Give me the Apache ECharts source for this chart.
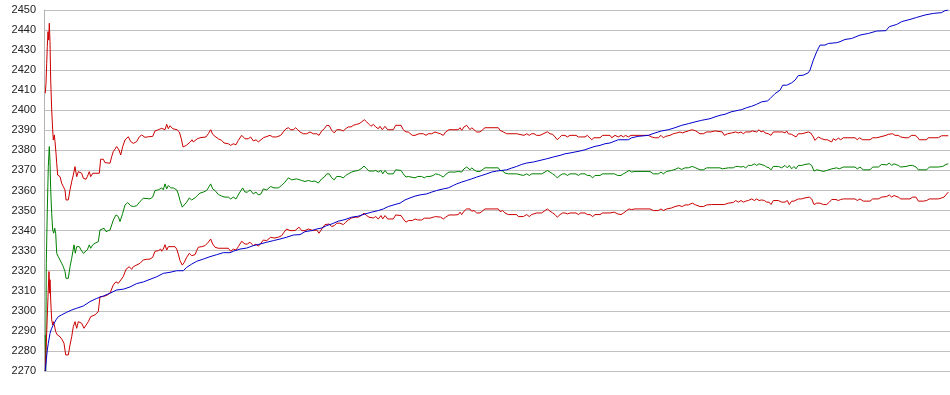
<!DOCTYPE html>
<html>
<head>
<meta charset="utf-8">
<script src="https://cdn.jsdelivr.net/npm/echarts@6/dist/echarts.min.js"></script>
<style>
html,body{margin:0;padding:0;background:#fff;}
#chart{width:950px;height:395px;}
</style>
</head>
<body>
<div id="chart"></div>
<script>
// y axis scale
const yMin = 2270;
const yMax = 2450;
const yStep = 10;
// x extent (sample steps)
const stepMax = 906;

// upper band (red) [step, value]
const upperBand = [
[1.3,2408.5],[2,2413.5],[2.7,2423.4],[3.3,2431.7],[4,2439.2],[4.7,2435],[5.3,2443.4],[6,2434.2],[6.7,2415.1],[7.7,2400.1],[8.7,2390.2],[9.3,2385.2],[10.3,2387.7],[11,2384.4],[12,2378.6],[12.7,2373.6],[13.7,2367.7],[16,2366.9],[17.7,2363.6],[19.3,2361.9],[21,2360.3],[22,2355.3],[24.3,2355.3],[26,2360.3],[27.7,2364.4],[29.3,2367.7],[31,2371.9],[32.7,2366.9],[34.3,2369.4],[36,2369.4],[37.7,2368.6],[39.3,2366.1],[42,2365.6],[43.3,2366.9],[45.3,2369.4],[46.7,2366.9],[48.7,2368.6],[55.3,2368.6],[56.7,2375.6],[59.3,2375.6],[61,2373.9],[62.7,2373.2],[66,2373.6],[67.7,2376.9],[69.3,2379.4],[72.7,2381.9],[75,2380.2],[76.7,2377.7],[78.7,2381.9],[81,2385.2],[84.3,2386.8],[86.7,2384.4],[89.3,2383.5],[92.7,2384.4],[95.3,2386.8],[97.7,2387.7],[101,2386.5],[104.3,2386.8],
[106,2386.3],[108.7,2387],[111,2389.7],[114.3,2390.3],[117.7,2391],[119.3,2391.7],[121,2390.3],[122.7,2393],[124.3,2390.8],[126,2392.3],[128.7,2390.8],[133,2390.3],[135.3,2389.2],[137.3,2385.8],[139,2381.7],[140.7,2381.3],[142.3,2382.5],[144.3,2383.3],[146.3,2384.2],[148,2385.3],[149.3,2384.2],[153.3,2385.8],[156,2386.3],[162,2386.7],[164.3,2388.3],[166.7,2390.3],[168.7,2388],[171,2387],[174.3,2385.8],[177.7,2385],[180,2383.7],[184.3,2383.3],[186.7,2382.5],[189.3,2383.3],[192,2382.8],[194.3,2385],[197.7,2387.5],[201,2385.8],[204.3,2385.8],[206.7,2386.7],[209.3,2384.7],[212,2385.3],[214.3,2384.2],[217,2385.3],[219.3,2386.3],[221,2385.8],[226,2387.5],[228.7,2386.7],[232.7,2386.7],[236.7,2387.5],[239.3,2389.2],[242,2390.8],[244.3,2391.3],[246.7,2390.3],[249.3,2390.3],[251.7,2391.3],
[253.7,2390.3],[256,2389.2],[259.3,2388.3],[262.7,2388.3],[266,2389.2],[269.3,2388.3],[272.7,2388.3],[275,2387.5],[277.7,2389.7],[280.3,2390.8],[282.7,2392.5],[285.3,2392.3],[287.7,2390],[290.3,2388.7],[292.7,2390.3],[296,2390.3],[299.3,2389.7],[301.7,2390.8],[304.3,2391.7],[307,2391.7],[309.3,2392.5],[312.7,2393],[315,2393.3],[317.7,2394.2],[320.3,2395.3],[322.7,2394.2],[325,2393],[327,2392],[329.3,2393],[331.7,2391.7],[334.3,2390.8],[336,2392],[338.3,2390.3],[341,2392],[343.7,2390.3],[349.3,2390.3],[351.7,2392.5],[357,2392.5],[359.3,2390.3],[362,2389.2],[364.3,2389.2],[366,2388.3],[368.3,2387.5],[371,2387.5],[372.7,2388.3],[375,2388.3],[377,2387.5],[379.3,2388.3],[382,2387.5],[384.3,2388.3],[387.7,2388.3],[391,2389.2],[393.7,2388.7],[396.3,2388.3],[399.3,2387.5],[401.7,2389.2],[405,2390.3],[411,2390.3],
[414.3,2390.3],[416,2391.3],[417.7,2390],[420,2391.7],[422.7,2392.5],[424.3,2393.3],[426,2390.3],[427.7,2391.3],[430,2390.3],[432.7,2389.2],[436,2389.2],[437.7,2390],[441,2391.3],[454.3,2391.3],[456,2390],[457.7,2390.3],[459.3,2389.2],[462.7,2388.3],[472.7,2388.3],[474.3,2387.5],[480,2387.5],[482.7,2388.3],[485.3,2387.5],[487.7,2388.3],[490,2388.3],[492.7,2387.5],[496,2387.5],[497.7,2388.3],[501,2388.7],[503.3,2389.3],[506,2388.3],[508.7,2388],[511,2386.7],[513.3,2385.3],[515.3,2386.3],[517.7,2387.5],[521,2387.5],[523.3,2386.7],[526,2387.5],[532,2387.5],[534.3,2386.7],[536.7,2386.7],[538.7,2387.5],[541,2386.7],[543.3,2387.5],[545.3,2386.7],[547.7,2385.3],[550,2386.3],[556,2386.3],[558.7,2387.5],[566,2387.5],
[567.7,2386.3],[571,2387.5],[574.3,2386.7],[577,2387.5],[579.3,2386.7],[581.7,2387.5],[584.3,2386.7],[587,2387.5],[604.3,2387.5],[607.7,2386.7],[610.3,2386.3],[614.3,2386.3],[617,2387.5],[619.3,2386.3],[621.7,2387],[626,2387.5],[629.3,2388.3],[632.7,2388.7],[636,2389.2],[638.3,2388.7],[641,2389.2],[644.3,2389.7],[648.3,2390.3],[651.7,2389.7],[656,2388.3],[659.3,2388.3],[662.7,2389.2],[667,2389.2],[671,2389.7],[678.3,2389.2],[680.3,2387.5],[683.7,2388.3],[687.7,2388.7],[691.7,2389.2],[694.3,2388.7],[697,2389.2],[699.3,2388.3],[701.7,2389.2],[703.7,2388.3],[706,2389.2],[708.3,2389.7],[710.3,2390.3],[712.7,2389.2],[715,2390.3],[717,2389.2],[719.3,2389.7],[721,2388.7],[724.3,2388.3],[727,2387.5],[729.3,2389.2],[736,2389.2],
[738.7,2389.2],[741,2388.7],[742.7,2389.7],[744.3,2388.3],[746,2389.2],[747.7,2388],[749.3,2387.5],[752,2386.7],[754.3,2388.3],[757.7,2388.3],[761,2388.7],[764.3,2389.2],[766.7,2388.7],[769.3,2386.7],[771,2385],[774.3,2386.7],[777.7,2385.8],[781,2385.3],[783.3,2385.3],[785.3,2386.2],[787.7,2384.2],[789.3,2385.8],[792,2385],[794.3,2386.2],[796.7,2385.3],[799.3,2386.3],[811,2386.3],[813.3,2385.3],[815.3,2386.3],[818.7,2385.3],[826,2385.3],[828.7,2386.3],[832.7,2386.3],[836,2386.7],[837.7,2387.5],[842,2387.5],[844.3,2388],[846,2387.5],[848.7,2388.3],[851,2387.5],[854.3,2387.5],[856.7,2386.7],[858.7,2387.5],[861,2386.3],[864.3,2386.3],[867.7,2387.5],[871,2387.5],[873.3,2386.7],[875.3,2385.3],[882.7,2385.3],[884.3,2386.3],[894.3,2386.3],[897.7,2387.3],[904.3,2387.3]
];

// middle line (green)
const middleLine = [
[1.3,2288],[1.7,2270],[2.3,2323.7],[3.3,2350.3],[4.3,2371.9],[5.3,2381.9],[6,2374.4],[6.7,2360.3],[7.7,2348.6],[8.7,2340.3],[9.7,2338.7],[10.7,2341.2],[11.7,2338.7],[12.7,2328.7],[14.3,2327],[16,2326.2],[17.7,2323.7],[19.3,2322],[21,2319.6],[22,2316.2],[24.3,2316.2],[26,2322],[27.7,2326.2],[30,2332.9],[31.3,2328.7],[32.7,2332],[35.3,2332],[37,2330.4],[39.3,2328.7],[41,2328.4],[43.3,2330.4],[45.3,2332.9],[46.7,2331.2],[48.7,2332.9],[51,2333.7],[54.3,2334.5],[56,2340.3],[60,2341.2],[62,2339.5],[63.3,2340.3],[66,2340.3],[67.7,2342.8],[69.3,2345.3],[72,2347.8],[74.3,2347],[76,2344.5],[78.7,2348.6],[81,2352.8],[83.7,2354],[86.7,2352.4],[89.3,2352],[92.7,2352.4],[96,2354.5],[99.3,2356.1],[103,2356],
[106,2355.8],[108.7,2356.7],[111,2360],[114.3,2360.3],[117.7,2361.3],[119.3,2360.3],[121,2363.3],[122.7,2360.8],[124.3,2362.5],[126.7,2361.3],[129.3,2361.3],[132.7,2360.3],[134.3,2358.3],[136,2355],[138.3,2351.7],[140.3,2352.5],[142.7,2354.2],[145.3,2356.3],[147.7,2355.3],[151,2356.3],[153.3,2357.5],[156,2358.7],[159.3,2359.2],[162.7,2360],[164.3,2361.3],[166.7,2363.3],[168.7,2360.8],[171,2360],[174.3,2358],[177.7,2357.2],[181,2356.7],[184.3,2356.7],[186.7,2355.8],[189.3,2356.7],[192,2355.8],[195.3,2358.7],[198.7,2361.3],[201,2359.2],[203.3,2359.2],[206,2360.3],[209.3,2358.3],[212,2359.2],[214.3,2357.8],[217,2358.3],[219.3,2360.8],[222.7,2360.3],[226.7,2362],[230,2361.3],[234.3,2361.3],[237.7,2362.5],[241,2364.2],[244.3,2366.3],[247.7,2365.3],[252.7,2365.8],
[254.3,2365.3],[257.7,2365],[261,2364.5],[264.3,2365],[267.7,2364.5],[271,2364.7],[274.3,2363.7],[277.7,2365.8],[280.3,2366.7],[282.7,2368.3],[285.3,2368.3],[287.7,2366.3],[290.3,2365.3],[292.7,2367],[296,2367],[299.3,2366.3],[301.7,2367.5],[304.3,2368.3],[307.7,2369.2],[311,2369.7],[314.3,2370],[317,2370.8],[320,2372.2],[322.7,2370.8],[325,2369.7],[327,2370.3],[329.3,2369.7],[331.7,2370],[334.3,2369.2],[337,2370],[338.7,2368.3],[341,2370],[343.7,2368.3],[349.3,2368.3],[351.7,2370.3],[357,2370],[359.3,2368.3],[362,2366.7],[364.3,2367],[366,2366.3],[371,2366.3],[373.7,2367],[375,2366.3],[377.7,2367],[380.3,2366.3],[382.7,2367],[386,2367],[389.3,2367.5],[391.7,2368.3],[394.3,2368],[396.7,2367.5],[399.3,2366.7],[401.7,2368],[405,2369.2],[411,2369.2],
[414.3,2369.5],[416,2370.3],[417.7,2369.2],[420,2370.8],[422.7,2371.7],[424.3,2372.5],[426,2370.3],[427.7,2371.3],[430,2370.3],[432.7,2369.5],[436,2369.5],[437.7,2370.3],[441,2371.3],[454.3,2371.3],[456,2370],[458.7,2369.7],[461,2368.7],[464.3,2368.3],[472.7,2368.3],[474.3,2367.5],[479.3,2367.5],[482.7,2368.3],[485.3,2367.5],[487.7,2368.3],[497.7,2368.3],[501,2369.2],[503.3,2370],[506,2369.2],[508.7,2368.3],[511,2367.5],[513.3,2366.3],[516,2367.5],[518.7,2368.3],[521,2368.3],[523.3,2367.5],[526,2368.3],[532,2368.3],[534.3,2367.5],[536.7,2368.3],[538.7,2367.5],[541,2368.3],[543.3,2367.5],[546,2367.5],[548.7,2366.3],[551,2367.5],[556,2367.5],[558.7,2368.3],[566,2368.3],
[567,2367.5],[570.3,2368.3],[573.7,2367.5],[577,2367.5],[579.3,2368.3],[582.7,2369.2],[585,2370],[587.7,2369.2],[591,2369.5],[606,2369.5],[609.3,2368.3],[614.3,2368.3],[617,2369.2],[619.3,2368.3],[622.7,2369.5],[627.7,2370],[631,2370.5],[634.3,2371.3],[637.7,2370.5],[641,2371.3],[644.3,2371.3],[648.3,2372],[651.7,2371.3],[656,2370.3],[659.3,2370.3],[662.7,2371.3],[676,2371.3],[678.3,2370.8],[680.3,2370.3],[684.3,2371.3],[689.3,2371.3],[691.7,2372],[694.3,2372],[697,2371.7],[699.3,2372],[701.7,2371.3],[704.3,2372.5],[707.7,2372.5],[710.3,2373.3],[712.7,2372.5],[715,2373.3],[717,2372.5],[720.3,2372.5],[722.7,2371.7],[725,2371.3],[727,2370.3],[729.3,2372],[734.3,2372],[737.7,2371.3],
[741,2372.5],[743.3,2371.3],[745.3,2372.5],[747.7,2370.8],[750,2372],[752,2370.8],[754.3,2372.5],[757.7,2372.5],[761,2373],[765.3,2373.3],[767.7,2372.5],[770,2369.7],[772.7,2370.3],[776,2370],[779.3,2369.5],[782.7,2370],[784.3,2369.2],[787.7,2370.8],[789.3,2370],[792.7,2371.3],[795.3,2370.8],[799.3,2371.7],[811,2371.7],[813.3,2370.8],[816,2371.7],[819.3,2370.3],[826,2370.3],[828.7,2371.7],[834.3,2371.7],[837.7,2373],[842.7,2372.8],[845.3,2373.7],[847.7,2372.5],[850,2373.3],[854.3,2372.5],[856.7,2371.7],[858.7,2372.5],[862,2372],[866,2372.5],[868.7,2372.5],[872,2371.7],[874.3,2370.3],[882.7,2370.3],[885.3,2371.7],[894.3,2371.7],[898.7,2372],[902,2373],[904.3,2373.3]
];

// lower band (red)
const lowerBand = [
[1.3,2270],[3.3,2270],[4,2307.1],[5,2319.6],[5.7,2308.8],[6,2315.5],[6.7,2305.4],[7.7,2295.5],[8.7,2293],[9.3,2294.6],[10.3,2293],[11.7,2289.6],[13.3,2288],[16,2287.1],[18.3,2285.5],[20,2283.8],[21.7,2278],[24.3,2278],[26,2283],[27.7,2287.1],[29.3,2292.1],[31,2294.6],[32.7,2291.3],[34.3,2294.6],[36,2295.5],[37.7,2293.8],[40,2291.3],[42,2292.1],[44.3,2294.6],[46.7,2297.1],[48.7,2296.3],[51,2298],[54.3,2299.6],[56,2307.1],[59.3,2307.1],[61,2306.3],[63.3,2307.9],[66,2308.8],[69.3,2312.9],[72,2314.5],[74.3,2313.7],[76,2312.9],[79.3,2317.1],[82,2320.7],[85.3,2322],[87.7,2320.7],[89.3,2322],[96,2323.7],[99.3,2325.4],[102.7,2325.7],
[106,2325.8],[108.7,2326.7],[111,2329.7],[114.3,2330],[116.7,2330.8],[117.7,2329.7],[119.3,2330.8],[121,2333],[122.7,2330.3],[124.3,2332],[131,2332],[132.7,2330.8],[134.3,2328.3],[136,2325],[138.3,2322.8],[140.3,2324.2],[142.7,2326.7],[145.3,2328.7],[147.7,2327.5],[151,2328],[152.7,2330],[154.3,2331.7],[157.7,2332],[161,2332.5],[164.3,2334.2],[166.7,2335.8],[168.7,2333.3],[171,2331.7],[174.3,2331.2],[184.3,2331.2],[186.7,2329.7],[189.3,2330.8],[192,2330.3],[194.3,2332],[197.7,2334.7],[201,2333.3],[203.3,2333.3],[206,2334.2],[209.3,2332.5],[212,2333.3],[214.3,2332.2],[217,2333.7],[219.3,2335.3],[222.7,2335],[226.7,2336.7],[230,2336.3],[234.3,2336.7],[237.7,2337.5],[240,2339.2],[242.7,2340.8],[246,2340],[251,2340],[255,2341.7],
[257.7,2340],[261,2340],[264.3,2340.8],[266,2340],[269.3,2340],[272.7,2340.3],[275,2338.7],[277.7,2340.8],[281,2343],[282.7,2343.7],[285.3,2343.3],[287.7,2342],[290.3,2342.5],[292.7,2343.7],[296,2343.7],[299.3,2343],[301.7,2344.2],[304.3,2345.3],[307.7,2346.3],[311,2346.7],[314.3,2346.7],[317,2347.5],[320,2348.7],[322.7,2347.5],[325,2346.7],[327,2347],[329.3,2346.3],[331.7,2347],[334.3,2345.8],[337,2347.5],[338.7,2345.8],[341,2347.5],[343.7,2345.8],[349.3,2345.8],[351.7,2347.8],[357,2347.5],[359.3,2345.8],[362,2344.2],[364.3,2345],[366,2345.8],[368.3,2345],[371,2345.8],[373.7,2345.3],[375,2345.8],[377.7,2345.3],[380.3,2346.2],[386,2346.2],[389.3,2346.7],[391.7,2347],[396.7,2346.7],[399.3,2345.8],[401.7,2346.7],[405,2347.8],[411,2347.8],
[414.3,2348],[416,2349.2],[417.7,2348],[420,2349.7],[422.7,2350.8],[424.3,2350],[426,2350.8],[427.7,2349.7],[430,2350],[432.7,2348.8],[436,2348.8],[437.7,2349.7],[441,2350.8],[454.3,2350.8],[456,2349.5],[458.7,2350],[461,2348.8],[464.3,2348],[472.7,2348],[474.3,2347],[479.3,2347],[482.7,2348],[485.3,2347],[487.7,2348],[492.7,2348.8],[497.7,2348.8],[501,2350],[503.3,2350.8],[506,2349.7],[508.7,2348.8],[511,2348],[513.3,2346.7],[516,2348],[518.7,2348.8],[521,2348.8],[523.3,2348.3],[526,2348.8],[532,2348.8],[534.3,2348],[536.7,2348.8],[538.7,2348],[541,2348.8],[543.3,2348],[546,2348],[548.7,2347],[551,2348],[556,2348],[558.7,2348.8],[566,2348.8],
[567,2348],[570.3,2349.2],[573.7,2348.3],[577,2348],[579.3,2348.7],[582.7,2350],[585,2350.8],[587.7,2350.5],[591,2350.8],[606,2350.8],[609.3,2350],[614.3,2350],[617,2350.8],[619.3,2350],[622.7,2350.8],[627.7,2351.3],[631,2352],[635,2352.5],[638.3,2352],[641,2352.8],[644.3,2352.8],[648.3,2353.7],[651.7,2352.8],[656,2352],[659.3,2352],[662.7,2352.8],[667.7,2353],[680.3,2353],[684.3,2353.7],[689.3,2354],[691.7,2355],[694.3,2354.2],[697,2355],[699.3,2354.2],[701.7,2354.7],[704.3,2355],[707.7,2355.8],[710.3,2355],[712.7,2355.8],[715,2355],[717.7,2355.3],[720.3,2355],[722.7,2354.2],[725,2354.2],[727,2353],[729.3,2355],[734.3,2355],[737.7,2354.2],
[741,2354.2],[743.3,2355],[745.3,2353],[747.7,2354.7],[750,2354.7],[752,2354.2],[754.3,2355.8],[757.7,2355.8],[761,2356.3],[765.3,2356.7],[767.7,2355.8],[770,2353],[772.7,2353.7],[776,2353.7],[779.3,2353],[782.7,2353],[785.3,2354.2],[787.7,2355.5],[789.3,2354.7],[792,2355.5],[794.3,2355],[796.7,2355.5],[799.3,2355.8],[811,2355.8],[813.3,2355],[816,2355.8],[819.3,2354.7],[826,2354.7],[828.7,2355.8],[834.3,2355.8],[837.7,2356.7],[842.7,2357],[845.3,2357.8],[847.7,2356.7],[850,2357.5],[854.3,2356.7],[856.7,2355.8],[858.7,2356.7],[862,2355.8],[866,2355.8],[868.7,2356.7],[872,2356.7],[874.3,2354.7],[879.3,2354.7],[882.7,2355],[885.3,2355.8],[894.3,2355.8],[897.7,2356.3],[900,2356.7],[902,2357],[904.3,2359.2]
];

// trend line (blue)
const trendLine = [
[1.3,2270],[2.3,2275.5],[3.3,2280.5],[4.3,2283.8],[6,2288.8],[7.7,2291.3],[9.3,2293],[12,2295.5],[14.3,2297.1],[17.7,2298],[22.7,2299.3],[27.7,2300.4],[32.7,2301.3],[39.3,2302.4],[46,2304.6],[52.7,2306.2],[59.3,2307.4],[66,2308.8],[72.7,2310.4],[79.3,2310.8],[86,2311.9],[92.7,2313.6],[99.3,2314.4],[106,2315.7],
[112.7,2317],[119.3,2318.7],[126,2319.2],[132.7,2320],[139.3,2320],[142.7,2321.7],[147.7,2323.3],[152.7,2324.7],[159.3,2325.8],[166,2327],[172.7,2328],[179.3,2329],[186,2329],[189.3,2329.7],[196,2330.8],[202.7,2331.3],[209.3,2332.5],[216,2333.3],[222.7,2334.2],[229.3,2335],[236,2335.8],[242.7,2336.7],[249.3,2337.8],[256,2338],
[261,2339.5],[267.7,2340],[272.7,2340.8],[277.7,2341.3],[282.7,2342.5],[287.7,2343.3],[294.3,2344.7],[301,2345.5],[307.7,2346.7],[314.3,2347.2],[321,2348.3],[327.7,2349.2],[334.3,2350],[339.3,2350.8],[344.3,2352],[351,2353],[356,2353.7],[361,2355.3],[366,2356.3],[371,2357.2],[376,2357.8],[382.7,2358.3],[387.7,2359.2],[392.7,2360],[399.3,2360.8],[404.3,2361.3],
[409.3,2362.5],[412.7,2363.3],[417.7,2364.2],[422.7,2365],[427.7,2365.8],[432.7,2366.7],[437.7,2367.5],[442.7,2368.3],[447.7,2369.2],[452.7,2369.7],[457.7,2370],[462.7,2370.3],[467.7,2371.2],[472.7,2372],[477.7,2373],[482.7,2373.7],[489.3,2374.2],[496,2375],[502.7,2375.8],[509.3,2376.7],[516,2377.5],[521,2378.3],[526,2378.7],[531,2379.2],[536,2379.7],[541,2380.3],[546,2381.2],[551,2382],[556,2382.5],[561,2383.3],[566,2383.7],
[567.7,2384.2],[574.3,2385.3],[584.3,2385.3],[587.7,2386.3],[594.3,2387],[604.3,2387.5],[611,2388.7],[617.7,2389.7],[624.3,2390.3],[631,2391.3],[637.7,2392.5],[644.3,2393.3],[651,2394.2],[657.7,2395],[666,2395.8],[671,2396.7],[676,2397.5],[681,2398],[687,2399.2],[694.3,2400],[697.7,2400.3],[702.7,2401.3],[707.7,2402],[712.7,2403],[717.7,2404.2],[723.7,2404.7],[726,2405.8],[731,2408.3],[736,2410],
[738.7,2412.5],[742.7,2412.5],[744.3,2413.3],[747.7,2413.7],[751,2415],[754.3,2417.3],[759.3,2417.5],[764.3,2418.7],[766,2420],[769.3,2425],[772.7,2429.2],[776,2432.5],[781,2432.5],[784.3,2433.3],[792.7,2433.7],[796,2434.2],[801,2435.3],[807.7,2435.8],[816,2437.5],[824.3,2438.3],[832.7,2439.5],[842,2439.7],[845.3,2441.7],[852.7,2442.8],[857.7,2444.2],[866,2445.3],[872.7,2446.3],[881,2447.5],[889.3,2448.3],[897.7,2448.7],[901,2449.7],[904.3,2450]
];

const RED = '#cc0000';
const GREEN = '#008000';
const BLUE = '#0000cc';

function lineSeries(name, data, color) {
  return {
    name: name,
    type: 'line',
    data: data,
    showSymbol: false,
    symbol: 'none',
    clip: true,
    lineStyle: { color: color, width: 1 },
    itemStyle: { color: color },
    emphasis: { disabled: true },
    silent: true,
    animation: false
  };
}

const chart = echarts.init(document.getElementById('chart'), null, { renderer: 'canvas' });
chart.setOption({
  animation: false,
  backgroundColor: '#ffffff',
  grid: { left: 44, right: 0, top: 10, bottom: 24, containLabel: false, outerBoundsMode: 'none' },
  xAxis: {
    type: 'value',
    min: 0,
    max: stepMax,
    show: false
  },
  yAxis: {
    type: 'value',
    min: yMin,
    max: yMax,
    interval: yStep,
    axisLine: { show: true, lineStyle: { color: '#b4b4b4', width: 1 } },
    axisTick: { show: false },
    axisLabel: {
      color: '#222222',
      fontSize: 11,
      fontFamily: 'Liberation Sans, Arial, sans-serif',
      margin: 8,
      formatter: function (v) { return String(v); }
    },
    splitLine: { show: true, lineStyle: { color: '#c0c0c0', width: 1 } }
  },
  series: [
    lineSeries('upper', upperBand, RED),
    lineSeries('middle', middleLine, GREEN),
    lineSeries('lower', lowerBand, RED),
    lineSeries('trend', trendLine, BLUE)
  ]
});
</script>
</body>
</html>
